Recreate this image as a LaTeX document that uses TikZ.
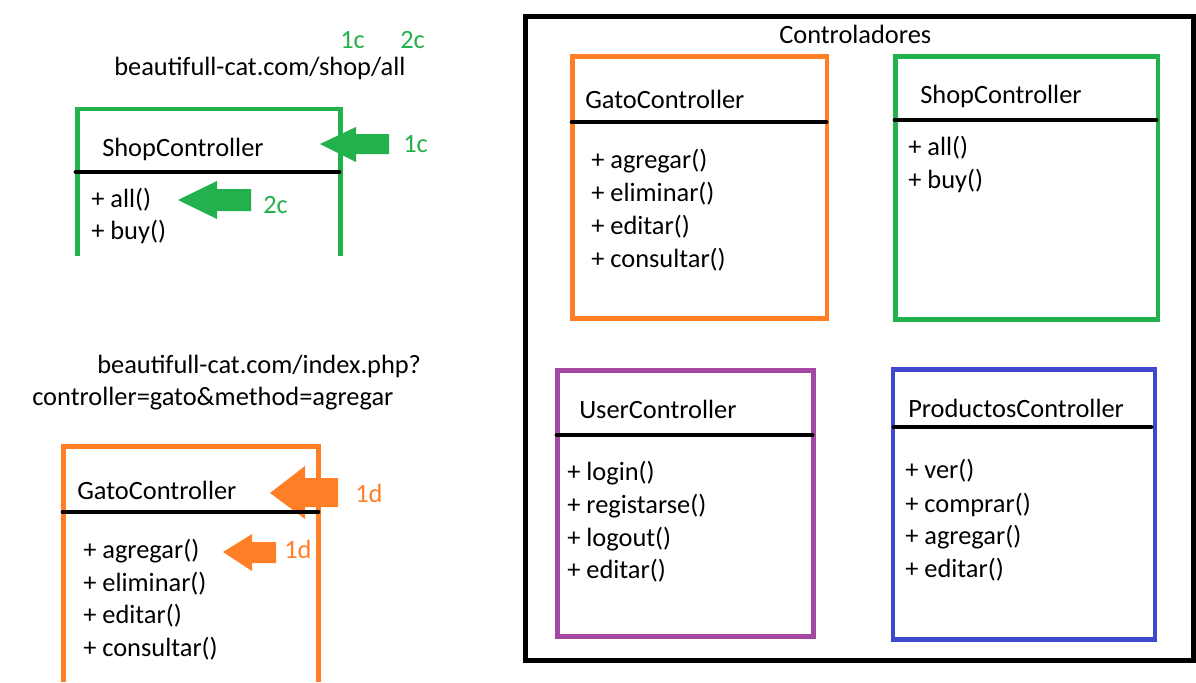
\documentclass[tikz,border=0pt]{standalone}
\usepackage{fontspec}
\setmainfont{Carlito}
\definecolor{paintgreen}{HTML}{22B14C}
\definecolor{paintorange}{HTML}{FF7F27}
\definecolor{paintpurple}{HTML}{A349A4}
\definecolor{paintblue}{HTML}{3F48CC}
\begin{document}
\begin{tikzpicture}[x=0.75pt,y=-0.75pt,
		every node/.style={inner sep=0pt,anchor=base west,font=\fontsize{19.8}{24}\selectfont},
		classbox/.style={line width=3.5pt},
		divider/.style={line width=3.6pt,line cap=round,black},
		frame/.style={line width=3.75pt,black}]
		\useasboundingbox (0,0) rectangle (1196,682);
		% left: shop url
		\node[text=paintgreen] (tagA) at (340,48) {1c};
		\node[text=paintgreen] (tagB) at (400,48) {2c};
		\node (urlshop) at (114,75) {beautifull-cat.com/shop/all};
		\draw[classbox,paintgreen] (77.5,256) -- (77.5,109) -- (340.5,109) -- (340.5,256);
		\draw[divider] (76,172) -- (339,172);
		\node (shopname) at (102,156) {ShopController};
		\node (shopall) at (91,207) {+ all()};
		\node (shopbuy) at (91,239) {+ buy()};
		\fill[paintgreen] (320,144) -- (356,127) -- (356,134) -- (389,134) -- (389,154) -- (356,154) -- (356,162) -- cycle;
		\node[text=paintgreen] (tagC) at (403,152) {1c};
		\fill[paintgreen] (178,200) -- (217,181) -- (217,189) -- (251,189) -- (251,211) -- (217,211) -- (217,219) -- cycle;
		\node[text=paintgreen] (tagD) at (263,213) {2c};
		% left: gato url
		\node (urlindex) at (97,373) {beautifull-cat.com/index.php?};
		\node (urlquery) at (32,405) {controller=gato\&method=agregar};
		\draw[classbox,paintorange] (63.5,682) -- (63.5,446.5) -- (318.5,446.5) -- (318.5,682);
		\node (gatoname) at (77,499) {GatoController};
		\node (gatoA) at (83,558) {+ agregar()};
		\node (gatoB) at (83,591) {+ eliminar()};
		\node (gatoC) at (83,623) {+ editar()};
		\node (gatoD) at (83,656) {+ consultar()};
		\fill[paintorange] (270,493) -- (305,466) -- (305,478) -- (338,478) -- (338,507) -- (305,507) -- (305,519) -- cycle;
		\draw[divider] (63,512) -- (318,512);
		\node[text=paintorange] (tagE) at (355,502) {1d};
		\fill[paintorange] (223,552) -- (252,534) -- (252,542) -- (276,542) -- (276,563) -- (252,563) -- (252,571) -- cycle;
		\node[text=paintorange] (tagF) at (284,558) {1d};
		% right: controladores
		\draw[frame] (525.5,16.5) rectangle (1193,660.5);
		\node (title) at (779,43) {Controladores};
		% gato
		\draw[classbox,paintorange] (572.5,56.5) rectangle (827,318.5);
		\draw[divider] (572,122) -- (826,122);
		\node (rgatoname) at (585,108) {GatoController};
		\node (rgatoA) at (591,168) {+ agregar()};
		\node (rgatoB) at (591,201) {+ eliminar()};
		\node (rgatoC) at (591,234) {+ editar()};
		\node (rgatoD) at (591,267) {+ consultar()};
		% shop
		\draw[classbox,paintgreen] (895.5,56.5) rectangle (1158,319.5);
		\draw[divider] (895,120) -- (1156,120);
		\node (rshopname) at (920,103) {ShopController};
		\node (rshopall) at (908,155) {+ all()};
		\node (rshopbuy) at (908,188) {+ buy()};
		% user
		\draw[classbox,paintpurple] (557.5,370.5) rectangle (813.5,636.5);
		\draw[divider] (557,435) -- (812,435);
		\node (username) at (579,418) {UserController};
		\node (userA) at (567,480) {+ login()};
		\node (userB) at (567,513) {+ registarse()};
		\node (userC) at (567,546) {+ logout()};
		\node (userD) at (567,578) {+ editar()};
		% productos
		\draw[classbox,paintblue] (893,369.5) rectangle (1155,639.5);
		\draw[divider] (894,427) -- (1151,427);
		\node (prodname) at (908,417) {ProductosController};
		\node (prodA) at (905,478) {+ ver()};
		\node (prodB) at (905,512) {+ comprar()};
		\node (prodC) at (905,544) {+ agregar()};
		\node (prodD) at (905,577) {+ editar()};
	\end{tikzpicture}
\end{document}
